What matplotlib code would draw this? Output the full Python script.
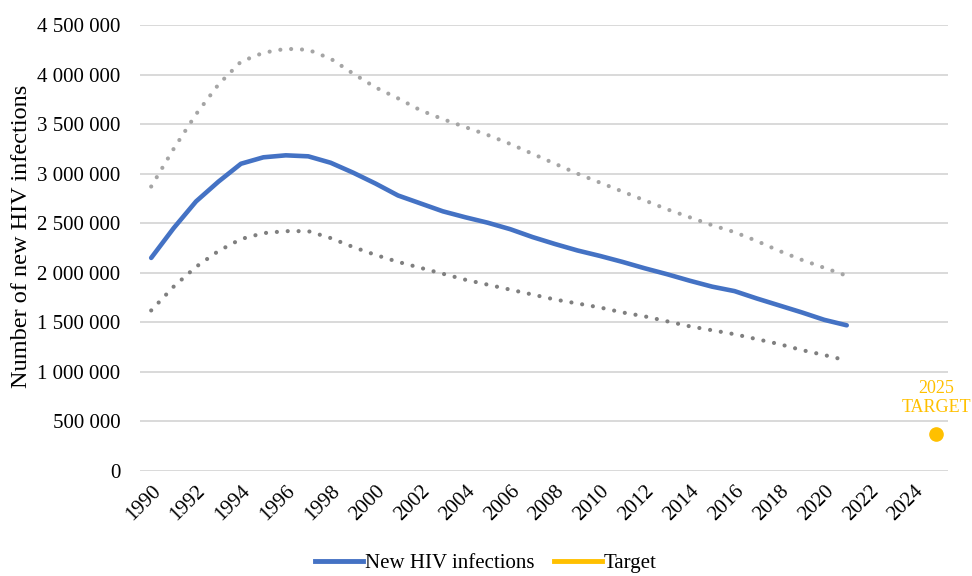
import numpy as np
import matplotlib.pyplot as plt
from matplotlib.lines import Line2D
from matplotlib.ticker import FuncFormatter, MultipleLocator

plt.rcParams['font.family'] = ['Liberation Serif', 'DejaVu Serif']

years = list(range(1990, 2022))
new_infections = [2150000, 2450000, 2720000, 2920000, 3100000, 3165000, 3185000, 3175000,
                  3110000, 3010000, 2900000, 2780000, 2700000, 2620000, 2560000, 2505000,
                  2440000, 2360000, 2290000, 2225000, 2170000, 2110000, 2045000, 1985000,
                  1920000, 1860000, 1815000, 1740000, 1670000, 1600000, 1525000, 1470000]
upper_bound = [2870000, 3250000, 3600000, 3900000, 4130000, 4220000, 4260000, 4250000,
               4160000, 4010000, 3870000, 3760000, 3640000, 3550000, 3470000, 3390000,
               3300000, 3200000, 3100000, 3000000, 2910000, 2820000, 2730000, 2640000,
               2560000, 2480000, 2410000, 2320000, 2220000, 2130000, 2050000, 1970000]
lower_bound = [1620000, 1860000, 2060000, 2220000, 2340000, 2400000, 2420000, 2420000,
               2350000, 2260000, 2180000, 2110000, 2050000, 1990000, 1930000, 1880000,
               1830000, 1780000, 1730000, 1690000, 1650000, 1600000, 1560000, 1510000,
               1460000, 1420000, 1380000, 1330000, 1280000, 1220000, 1170000, 1115000]
target_year = [2025]
target_value = [370000]

blue = '#4472C4'
gold = '#FFC000'

fig = plt.figure(figsize=(9.72, 5.76), dpi=100)
ax = fig.add_axes([0.144, 0.1823, 0.831, 0.7743])

ax.plot(years, upper_bound, color='#A5A5A5', lw=3.0, linestyle=(0, (0.01, 2.6)),
        dash_capstyle='round')
ax.plot(years, lower_bound, color='#7F7F7F', lw=3.0, linestyle=(0, (0.01, 2.6)),
        dash_capstyle='round')
ax.plot(years, new_infections, color=blue, lw=3.3, solid_capstyle='round')
ax.plot(target_year, target_value, 'o', color=gold, ms=9.5)
ax.annotate(f'{target_year[0]}\nTARGET', (target_year[0], target_value[0]),
            xytext=(0, 13), textcoords='offset points', ha='center', va='bottom',
            color=gold, fontsize=13, linespacing=1.15)

ax.set_xlim(1989.5, 2025.5)
ax.set_ylim(0, 4500000)
ax.yaxis.set_major_locator(MultipleLocator(500000))
ax.yaxis.set_major_formatter(FuncFormatter(lambda v, p: f'{int(v):,}'.replace(',', ' ')))
ax.set_xticks(range(1990, 2025, 2))
ax.set_xticklabels([str(y) for y in range(1990, 2025, 2)], rotation=45, ha='right',
                   va='top', rotation_mode='anchor')
ax.tick_params(axis='both', length=0, labelsize=15, colors='#000000')
ax.tick_params(axis='x', pad=8)
ax.tick_params(axis='y', pad=14)

ax.grid(axis='y', color='#D9D9D9', lw=1.4)
ax.set_axisbelow(True)
for s in ax.spines.values():
    s.set_visible(False)

ax.set_ylabel('Number of new HIV infections', fontsize=17.5)
ax.yaxis.set_label_coords(-0.134, 0.525)

handles = [Line2D([], [], color=blue, lw=3.5), Line2D([], [], color=gold, lw=3.5)]
fig.legend(handles, ['New HIV infections', 'Target'], loc='center', ncol=2,
           bbox_to_anchor=(0.5, 0.022), frameon=False, fontsize=15,
           handlelength=2.3, handletextpad=0.1, columnspacing=0.9)

fig.savefig('out.png', dpi=100)
